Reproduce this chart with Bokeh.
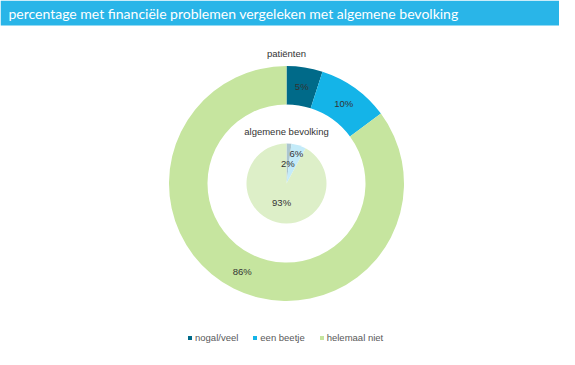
import math
from bokeh.plotting import figure
from bokeh.models import ColumnDataSource, Range1d, Legend, LegendItem, BoxAnnotation, Label
from bokeh.core.properties import value
from bokeh.embed import file_html
from bokeh.resources import INLINE

# ---- data ----
categories = ["nogal/veel", "een beetje", "helemaal niet"]
patienten = [5, 10, 86]
bevolking = [2, 6, 93]
title_text = "percentage met financiële problemen vergeleken met algemene bevolking"
ring_title = "patiënten"
pie_title = "algemene bevolking"

# ---- style ----
outer_colors = ["#006a89", "#14b4e8", "#c6e59f"]
inner_colors = ["#abc6d0", "#c4ebf9", "#ddefc8"]
band_color = "#29b5e8"
label_color = "#333333"
legend_color = "#595959"
inner_label_r = [0.5, 0.8, 0.5]

W, H = 559, 349
cx, cy = 286, H - 183
R_out, R_in, R_pie = 117.5, 79, 40

p = figure(width=W, height=H, x_range=Range1d(0, W), y_range=Range1d(0, H),
           output_backend="svg", toolbar_location=None, min_border=0)
p.axis.visible = False
p.grid.visible = False
p.outline_line_color = None


def angles(vals):
    total = float(sum(vals))
    starts, ends, mids = [], [], []
    a = math.pi / 2
    for v in vals:
        da = 2 * math.pi * v / total
        starts.append(a)
        ends.append(a - da)
        mids.append(a - da / 2)
        a -= da
    return starts, ends, mids


s_o, e_o, m_o = angles(patienten)
s_i, e_i, m_i = angles(bevolking)

src_o = ColumnDataSource(dict(cat=categories, val=patienten, start=s_o, end=e_o,
                              color=outer_colors,
                              lx=[cx + (R_out + R_in) / 2 * math.cos(m) for m in m_o],
                              ly=[cy + (R_out + R_in) / 2 * math.sin(m) for m in m_o],
                              txt=[f"{v}%" for v in patienten]))
src_i = ColumnDataSource(dict(cat=categories, val=bevolking, start=s_i, end=e_i,
                              color=inner_colors,
                              lx=[cx + f * R_pie * math.cos(m) for m, f in zip(m_i, inner_label_r)],
                              ly=[cy + f * R_pie * math.sin(m) for m, f in zip(m_i, inner_label_r)],
                              txt=[f"{v}%" for v in bevolking]))

r_out = p.annular_wedge(x=cx, y=cy, inner_radius=R_in, outer_radius=R_out,
                        start_angle="start", end_angle="end", direction="clock",
                        fill_color="color", line_color=None, source=src_o)
p.wedge(x=cx, y=cy, radius=R_pie, start_angle="start", end_angle="end",
        direction="clock", fill_color="color", line_color=None, source=src_i)

for src in (src_o, src_i):
    p.text(x="lx", y="ly", text="txt", source=src, text_align="center",
           text_baseline="middle", text_font=value("Liberation Sans"),
           text_font_size="9.5px", text_color=label_color)

p.add_layout(Label(x=cx, y=cy + R_out + 13, text=ring_title, text_align="center",
                   text_baseline="middle", text_font="Liberation Sans",
                   text_font_size="9.5px", text_color=label_color))
p.add_layout(Label(x=cx, y=cy + R_pie + 12, text=pie_title, text_align="center",
                   text_baseline="middle", text_font="Liberation Sans",
                   text_font_size="9.5px", text_color=label_color))

# title band
p.add_layout(BoxAnnotation(bottom=H - 25, top=H, fill_color=band_color,
                           fill_alpha=1, line_color=None, level="underlay"))
p.add_layout(Label(x=8, y=H - 13, text=title_text, text_color="white",
                   text_font="Lato", text_font_size="14px",
                   text_baseline="middle"))

legend = Legend(items=[LegendItem(label=c, renderers=[r_out], index=i)
                       for i, c in enumerate(categories)],
                orientation="horizontal", location=(187, 6),
                glyph_width=5, glyph_height=5, label_standoff=3, spacing=14,
                label_text_font="Liberation Sans", label_text_font_size="9.5px",
                label_text_color=legend_color, label_height=10,
                padding=0, margin=0, border_line_color=None,
                background_fill_alpha=0)
p.add_layout(legend)

open("out.html", "w").write(file_html(p, INLINE))
